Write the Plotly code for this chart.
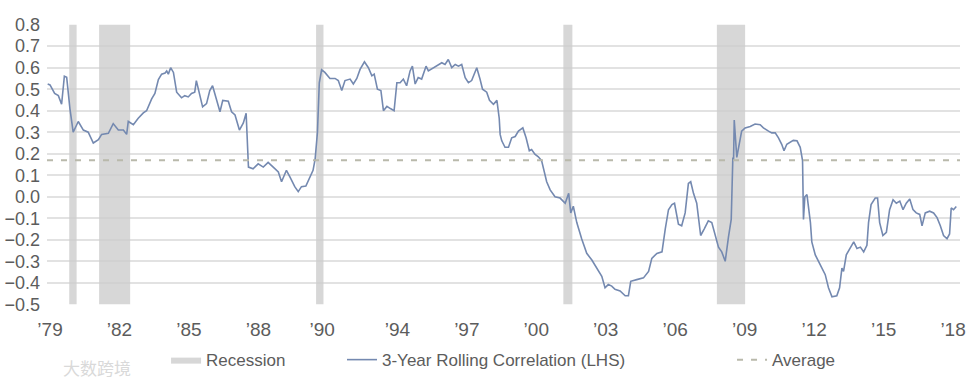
import plotly.graph_objects as go

# ---- data (decimal years) ----
years = [1978.9, 1979.0, 1979.2, 1979.36, 1979.5, 1979.62, 1979.72, 1979.86, 1980.0, 1980.22,
         1980.44, 1980.65, 1980.87, 1981.09, 1981.23, 1981.52, 1981.73, 1981.95, 1982.17, 1982.31,
         1982.38, 1982.6, 1982.81, 1983.03, 1983.17, 1983.39, 1983.53, 1983.68, 1983.82, 1983.97,
         1984.04, 1984.11, 1984.21, 1984.33, 1984.47, 1984.68, 1984.82, 1984.97, 1985.11, 1985.25,
         1985.32, 1985.45, 1985.59, 1985.76, 1985.9, 1986.02, 1986.17, 1986.34, 1986.46, 1986.7,
         1986.84, 1986.99, 1987.18, 1987.35, 1987.47, 1987.57, 1987.77, 1987.99, 1988.21, 1988.42,
         1988.64, 1988.86, 1989.0, 1989.21, 1989.36, 1989.57, 1989.72, 1989.86, 1990.05, 1990.22,
         1990.36, 1990.45, 1990.55, 1990.63, 1990.73, 1990.87, 1991.09, 1991.31, 1991.45, 1991.6,
         1991.74, 1991.96, 1992.1, 1992.25, 1992.39, 1992.58, 1992.75, 1992.9, 1993.0, 1993.14,
         1993.29, 1993.4, 1993.55, 1993.7, 1993.86, 1993.98, 1994.12, 1994.26, 1994.4, 1994.55,
         1994.65, 1994.77, 1994.9, 1995.05, 1995.24, 1995.34, 1995.56, 1995.7, 1995.92, 1996.06,
         1996.2, 1996.35, 1996.5, 1996.64, 1996.78, 1996.93, 1997.07, 1997.21, 1997.3, 1997.43,
         1997.57, 1997.68, 1997.86, 1997.98, 1998.15, 1998.3, 1998.4, 1998.44, 1998.51, 1998.65,
         1998.8, 1998.94, 1999.09, 1999.23, 1999.42, 1999.56, 1999.7, 1999.8, 1999.94, 2000.09,
         2000.23, 2000.37, 2000.45, 2000.6, 2000.81, 2001.03, 2001.25, 2001.4, 2001.49, 2001.6,
         2001.75, 2001.96, 2002.18, 2002.4, 2002.61, 2002.83, 2002.97, 2003.11, 2003.26, 2003.4,
         2003.62, 2003.84, 2003.98, 2004.08, 2004.34, 2004.63, 2004.85, 2004.99, 2005.21, 2005.43,
         2005.57, 2005.71, 2005.86, 2005.97, 2006.14, 2006.28, 2006.43, 2006.57, 2006.67, 2006.79,
         2006.93, 2007.1, 2007.25, 2007.43, 2007.58, 2007.72, 2007.87, 2008.01, 2008.16, 2008.3,
         2008.42, 2008.49, 2008.52, 2008.55, 2008.66, 2008.87, 2009.02, 2009.24, 2009.45, 2009.67,
         2009.81, 2010.03, 2010.17, 2010.32, 2010.46, 2010.6, 2010.7, 2010.82, 2010.97, 2011.1,
         2011.26, 2011.4, 2011.5, 2011.54, 2011.6, 2011.69, 2011.84, 2011.9, 2012.05, 2012.26,
         2012.48, 2012.62, 2012.77, 2012.98, 2013.1, 2013.2, 2013.27, 2013.39, 2013.56, 2013.71,
         2013.85, 2014.0, 2014.14, 2014.28, 2014.35, 2014.46, 2014.64, 2014.74, 2014.83, 2014.97,
         2015.12, 2015.26, 2015.41, 2015.55, 2015.7, 2015.84, 2015.98, 2016.13, 2016.27, 2016.41,
         2016.56, 2016.66, 2016.8, 2016.99, 2017.16, 2017.31, 2017.45, 2017.59, 2017.74, 2017.85,
         2017.92, 2018.02, 2018.14]

correlation = [0.524, 0.52, 0.48, 0.47, 0.43, 0.56, 0.555, 0.41, 0.30, 0.35,
               0.31, 0.30, 0.25, 0.265, 0.29, 0.295, 0.34, 0.31, 0.31, 0.29,
               0.35, 0.335, 0.365, 0.39, 0.40, 0.455, 0.48, 0.545, 0.57, 0.575,
               0.585, 0.57, 0.60, 0.578, 0.486, 0.46, 0.47, 0.464, 0.48, 0.486,
               0.54, 0.486, 0.418, 0.433, 0.494, 0.516, 0.456, 0.395, 0.448, 0.444,
               0.395, 0.38, 0.31, 0.343, 0.388, 0.138, 0.13, 0.153, 0.138, 0.16,
               0.138, 0.115, 0.07, 0.123, 0.092, 0.047, 0.024, 0.047, 0.05, 0.092,
               0.123, 0.175, 0.30, 0.53, 0.59, 0.578, 0.55, 0.55, 0.54, 0.494,
               0.54, 0.547, 0.524, 0.55, 0.592, 0.627, 0.60, 0.562, 0.57, 0.50,
               0.494, 0.40, 0.42, 0.41, 0.40, 0.53, 0.53, 0.547, 0.516, 0.585,
               0.607, 0.524, 0.554, 0.547, 0.607, 0.585, 0.60, 0.607, 0.623, 0.615,
               0.638, 0.60, 0.615, 0.607, 0.615, 0.554, 0.53, 0.54, 0.565, 0.60,
               0.547, 0.50, 0.486, 0.448, 0.43, 0.448, 0.365, 0.29, 0.26, 0.23,
               0.23, 0.274, 0.28, 0.305, 0.32, 0.274, 0.214, 0.22, 0.198, 0.186,
               0.168, 0.107, 0.07, 0.032, 0.0, -0.006, -0.03, 0.016, -0.075, -0.044,
               -0.12, -0.195, -0.263, -0.294, -0.33, -0.37, -0.423, -0.408, -0.415, -0.43,
               -0.438, -0.46, -0.46, -0.393, -0.385, -0.377, -0.347, -0.286, -0.263, -0.256,
               -0.15, -0.06, -0.036, -0.03, -0.127, -0.135, -0.075, 0.062, 0.07, 0.016,
               -0.03, -0.18, -0.15, -0.112, -0.12, -0.173, -0.234, -0.256, -0.30, -0.188,
               -0.105, 0.183, 0.168, 0.357, 0.183, 0.305, 0.32, 0.327, 0.338, 0.335,
               0.32, 0.305, 0.297, 0.297, 0.274, 0.244, 0.214, 0.244, 0.252, 0.262,
               0.26, 0.23, 0.168, -0.105, 0.0, 0.01, -0.12, -0.21, -0.27, -0.317,
               -0.362, -0.423, -0.465, -0.46, -0.423, -0.332, -0.347, -0.27, -0.24, -0.21,
               -0.24, -0.234, -0.256, -0.226, -0.12, -0.036, -0.006, -0.006, -0.12, -0.18,
               -0.165, -0.06, -0.014, -0.03, -0.02, -0.06, -0.03, -0.01, -0.06, -0.075,
               -0.082, -0.135, -0.075, -0.067, -0.075, -0.097, -0.135, -0.18, -0.195, -0.173,
               -0.052, -0.06, -0.045]

average_value = 0.17

recession_start = [1979.83, 1981.12, 1990.49, 2001.17, 2007.80]
recession_end = [1980.15, 1982.46, 1990.81, 2001.56, 2009.02]

x_tick_vals = [1979, 1982, 1985, 1988, 1990.75, 1994, 1997, 2000, 2003, 2006, 2009, 2012, 2015, 2018]
x_tick_text = ["’79", "’82", "’85", "’88", "’90", "’94", "’97", "’00", "’03", "’06", "’09", "’12", "’15", "’18"]
y_tick_vals = [0.8, 0.7, 0.6, 0.5, 0.4, 0.3, 0.2, 0.1, 0.0, -0.1, -0.2, -0.3, -0.4, -0.5]

x_range = [1978.87, 2018.30]
y_range = [-0.503, 0.803]
y_lo, y_hi = -0.5, 0.8

# ---- build recession polygons from the start/end lists ----
rec_x, rec_y = [], []
for s, e in zip(recession_start, recession_end):
    rec_x += [s, e, e, s, s, None]
    rec_y += [y_lo, y_lo, y_hi, y_hi, y_lo, None]

TEXT = "#5c5c5c"
FONT = "Liberation Sans, Arial, sans-serif"

fig = go.Figure()
fig.add_trace(go.Scatter(
    x=rec_x, y=rec_y, fill="toself", mode="lines",
    fillcolor="rgba(205,205,205,0.8)", line=dict(width=0, color="rgba(205,205,205,0.8)"),
    name="Recession", legend="legend", hoverinfo="skip"))
fig.add_trace(go.Scatter(
    x=years, y=correlation, mode="lines",
    line=dict(color="#7489b0", width=1.6),
    name="3-Year Rolling Correlation (LHS)", legend="legend2"))
fig.add_trace(go.Scatter(
    x=x_range, y=[average_value, average_value], mode="lines",
    line=dict(color="#b9b9ab", width=2, dash="6px,8px"),
    name="Average", legend="legend3"))

legend_common = dict(orientation="h", xref="paper", yref="paper",
                     xanchor="left", yanchor="middle", y=-0.196,
                     bgcolor="rgba(0,0,0,0)", borderwidth=0,
                     font=dict(family=FONT, size=17, color=TEXT))

fig.update_layout(
    width=978, height=390,
    margin=dict(l=47, r=18, t=24, b=81),
    paper_bgcolor="white", plot_bgcolor="white",
    showlegend=True,
    legend=dict(legend_common, x=0.1304),
    legend2=dict(legend_common, x=0.3231),
    legend3=dict(legend_common, x=0.7503),
    xaxis=dict(range=x_range, tickmode="array", tickvals=x_tick_vals, ticktext=x_tick_text,
               showgrid=False, zeroline=False, showline=False, ticks="", automargin=False,
               ticklabelstandoff=11,
               tickfont=dict(family=FONT, size=19, color=TEXT)),
    yaxis=dict(range=y_range, tickmode="array", tickvals=y_tick_vals,
               tickformat=".1f", showgrid=True, gridcolor="#e2e2e2", gridwidth=2,
               zeroline=False, showline=False, ticks="", ticklabelstandoff=6, automargin=False,
               tickfont=dict(family=FONT, size=18, color=TEXT)),
    annotations=[dict(text="大数跨境", xref="paper", yref="paper", x=0.015, y=-0.221,
                      xanchor="left", yanchor="middle", showarrow=False,
                      font=dict(family="Noto Sans CJK SC", size=17, color="#d9d9d9"))],
)

fig.write_html("out.html", config={"displayModeBar": False},
               post_script="document.body.style.margin='0';")
